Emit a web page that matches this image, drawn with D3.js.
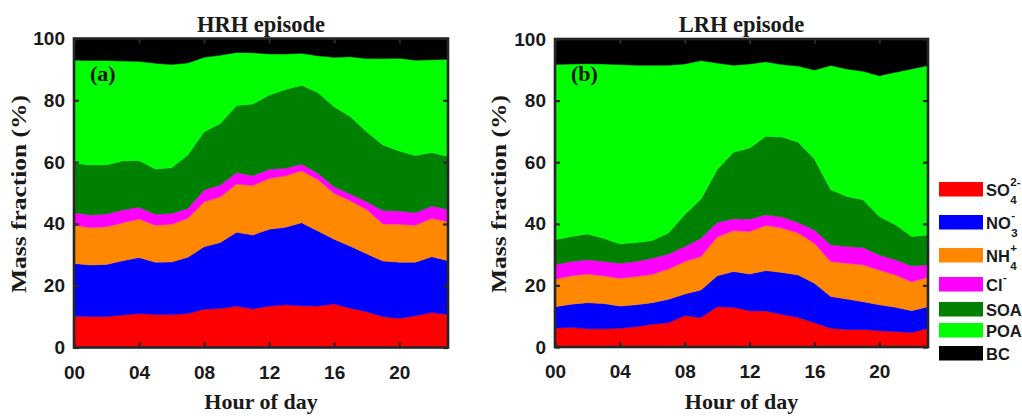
<!DOCTYPE html>
<html>
<head>
<meta charset="utf-8">
<script src="https://cdn.jsdelivr.net/npm/d3@7/dist/d3.min.js"></script>
<style>
  body { margin: 0; background: #fff; }
</style>
</head>
<body>
<div id="container"></div>
<script>
let w = 1022;
let h = 420;

// data: hourly mass fractions (%)
let hours = [0,1,2,3,4,5,6,7,8,9,10,11,12,13,14,15,16,17,18,19,20,21,22,23];
let xTicks = [0,4,8,12,16,20];
let xTickLabels = ["00","04","08","12","16","20"];
let yTicks = [0,20,40,60,80,100];
let species = ["SO4","NO3","NH4","Cl","SOA","POA","BC"];
let colors = ["#ff0000","#0000ff","#ff8800","#ff00ff","#008000","#00ff00","#000000"];
let titles = ["HRH episode","LRH episode"];
let panelTags = ["(a)","(b)"];

// HRH episode
let hrhSO4 = [10.2,10.0,10.0,10.5,11.0,10.7,10.7,11.0,12.4,12.6,13.4,12.5,13.4,13.8,13.5,13.4,14.1,12.7,11.6,10.0,9.4,10.3,11.3,10.7];
let hrhNO3 = [17.0,16.7,16.9,17.6,18.1,16.9,17.0,18.2,20.2,21.4,23.9,23.9,24.9,25.1,26.9,24.3,20.9,20.1,18.7,18.0,18.2,17.3,18.1,17.4];
let hrhNH4 = [12.4,12.1,12.2,12.3,12.5,12.0,12.2,12.6,14.6,14.8,15.6,16.0,16.4,16.7,16.8,16.7,14.9,14.7,14.4,12.0,12.3,12.0,12.4,12.6];
let hrhCl  = [4.0,4.1,4.1,4.1,3.8,3.5,3.5,3.2,3.8,3.8,3.7,3.2,3.0,2.4,2.2,2.0,2.1,2.2,2.5,4.3,4.3,4.0,4.0,4.0];
let hrhSOA = [16.0,16.2,15.9,15.9,15.1,14.7,14.8,17.3,18.8,19.9,21.7,23.2,24.0,25.5,25.5,26.1,25.9,25.0,22.6,21.2,19.4,18.5,17.3,17.1];
let hrhPOA = [33.4,33.8,33.8,32.3,32.1,34.2,33.4,29.8,24.1,22.1,17.2,16.6,13.3,11.5,10.3,11.9,16.0,19.4,23.7,28.0,30.0,30.9,30.0,31.5];
let hrhBC  = [7.0,7.1,7.1,7.3,7.4,8.0,8.4,7.9,6.1,5.4,4.5,4.6,5.0,5.0,4.8,5.6,6.1,5.9,6.5,6.5,6.4,7.0,6.9,6.7];

// LRH episode
let lrhSO4 = [6.1,6.4,5.9,5.9,6.1,6.6,7.4,7.9,10.2,9.6,13.1,12.9,11.8,11.7,10.6,9.6,7.9,6.1,5.7,5.7,5.3,5.0,4.7,6.1];
let lrhNO3 = [7.0,7.5,8.5,8.2,7.2,7.1,7.0,7.6,7.0,8.9,10.0,11.6,11.9,13.1,13.6,13.8,12.8,10.3,9.9,9.0,8.4,7.9,7.1,7.0];
let lrhNH4 = [8.9,9.2,9.3,9.0,9.0,9.2,9.2,9.8,10.6,10.9,12.6,13.3,13.8,14.7,14.4,13.6,13.0,11.4,11.6,12.0,11.3,10.5,9.4,9.6];
let lrhCl  = [4.7,4.7,4.6,4.7,4.9,4.9,5.2,4.9,4.8,5.9,4.7,3.8,4.0,3.4,3.6,3.4,4.3,5.4,5.4,5.6,4.9,4.9,5.1,4.0];
let lrhSOA = [8.1,8.1,8.4,7.5,6.3,6.1,5.8,6.8,10.4,12.7,17.2,21.6,23.1,25.5,26.0,26.1,23.0,17.9,16.3,15.5,12.5,11.4,9.6,9.7];
let lrhPOA = [56.9,56.0,55.3,56.6,58.2,57.6,56.9,54.5,48.9,45.0,34.6,28.3,27.3,24.2,23.5,24.7,28.9,40.3,41.4,41.7,45.7,49.5,54.4,55.0];
let lrhBC  = [8.3,8.1,8.0,8.1,8.3,8.5,8.5,8.5,8.1,7.0,7.8,8.5,8.1,7.4,8.3,8.8,10.1,8.6,9.7,10.5,11.9,10.8,9.7,8.6];

let episodes = [
  [hrhSO4, hrhNO3, hrhNH4, hrhCl, hrhSOA, hrhPOA, hrhBC],
  [lrhSO4, lrhNO3, lrhNH4, lrhCl, lrhSOA, lrhPOA, lrhBC]
];

// pixel boxes of the two axes
let panels = [
  {left: 74, right: 448, top: 38.5, bottom: 347.5, ylabX: 26},
  {left: 555, right: 928, top: 39, bottom: 347, ylabX: 506}
];

let axisColor = "#262626";
let sansFont = "'Liberation Sans', Arial, sans-serif";
let narrowFont = "'Liberation Sans Narrow', 'Arial Narrow', 'Liberation Sans', sans-serif";
let serifFont = "'Liberation Serif', 'Times New Roman', serif";

let viz = d3.select("#container")
  .append("svg")
    .attr("width", w)
    .attr("height", h)
    .style("background-color", "white");

let stack = d3.stack().keys(species);

panels.forEach(function(p, k){
  let rows = hours.map(function(hr, i){
    let r = {hour: hr};
    species.forEach(function(s, j){ r[s] = episodes[k][j][i]; });
    return r;
  });

  let xScale = d3.scaleLinear().domain([0, 23]).range([p.left, p.right]);
  let yScale = d3.scaleLinear().domain([0, 100]).range([p.bottom, p.top]);

  let clipId = "clip" + k;
  viz.append("clipPath").attr("id", clipId)
    .append("rect")
      .attr("x", p.left).attr("y", p.top)
      .attr("width", p.right - p.left).attr("height", p.bottom - p.top);

  let area = d3.area()
    .x(function(d){ return xScale(d.data.hour); })
    .y0(function(d){ return yScale(d[0]); })
    .y1(function(d){ return yScale(d[1]); });

  viz.append("g")
    .attr("clip-path", "url(#" + clipId + ")")
    .selectAll("path")
    .data(stack(rows))
    .enter()
    .append("path")
      .attr("d", area)
      .attr("fill", function(d, i){ return colors[i]; })
      .attr("stroke", function(d, i){ return colors[i]; })
      .attr("stroke-width", 0.5);

  // panel tag (a)/(b)
  viz.append("text")
    .attr("x", p.left + 16)
    .attr("y", 81)
    .attr("font-family", serifFont)
    .attr("font-weight", "bold")
    .attr("font-size", 22)
    .attr("fill", "#111")
    .text(panelTags[k]);

  // inward ticks on all four sides
  let axes = [
    {ax: d3.axisLeft(yScale).tickValues(yTicks).tickSize(-5).tickPadding(9), tr: [p.left, 0]},
    {ax: d3.axisRight(yScale).tickValues(yTicks).tickSize(-5).tickFormat(""), tr: [p.right, 0]},
    {ax: d3.axisBottom(xScale).tickValues(xTicks).tickSize(-5).tickPadding(18)
          .tickFormat(function(d, i){ return xTickLabels[i]; }), tr: [0, p.bottom]},
    {ax: d3.axisTop(xScale).tickValues(xTicks).tickSize(-5).tickFormat(""), tr: [0, p.top]}
  ];
  axes.forEach(function(a){
    let g = viz.append("g")
      .attr("transform", "translate(" + a.tr[0] + "," + a.tr[1] + ")")
      .call(a.ax);
    g.select(".domain").remove();
    g.selectAll("line").attr("stroke", axisColor).attr("stroke-width", 2.2);
    g.selectAll("text")
      .attr("font-family", sansFont)
      .attr("font-weight", "bold")
      .attr("font-size", 19)
      .attr("fill", "#1a1a1a");
  });

  // box
  viz.append("rect")
    .attr("x", p.left).attr("y", p.top)
    .attr("width", p.right - p.left).attr("height", p.bottom - p.top)
    .attr("fill", "none")
    .attr("stroke", axisColor)
    .attr("stroke-width", 2.6);

  let cx = (p.left + p.right) / 2;

  viz.append("text")
    .attr("x", cx).attr("y", 32)
    .attr("text-anchor", "middle")
    .attr("font-family", serifFont)
    .attr("font-weight", "bold")
    .attr("font-size", 22.5)
    .attr("fill", "#1a1a1a")
    .text(titles[k]);

  viz.append("text")
    .attr("x", cx).attr("y", 409)
    .attr("text-anchor", "middle")
    .attr("font-family", serifFont)
    .attr("font-weight", "bold")
    .attr("font-size", 22)
    .attr("fill", "#1a1a1a")
    .text("Hour of day");

  viz.append("text")
    .attr("transform", "translate(" + p.ylabX + ",194) rotate(-90)")
    .attr("text-anchor", "middle")
    .attr("font-family", serifFont)
    .attr("font-weight", "bold")
    .attr("font-size", 22)
    .attr("textLength", 198)
    .attr("lengthAdjust", "spacingAndGlyphs")
    .attr("fill", "#1a1a1a")
    .text("Mass fraction (%)");
});

// legend
let legendMain = ["SO","NO","NH","Cl","SOA","POA","BC"];
let legendSub  = ["4","3","4","","","",""];
let legendSup  = ["2-","-","+","-","","",""];
let legendTops = [182, 215, 248, 277, 302, 323, 346];

let legend = viz.append("g");
species.forEach(function(s, i){
  let y0 = legendTops[i];
  legend.append("rect")
    .attr("x", 939).attr("y", y0)
    .attr("width", 44).attr("height", 14.5)
    .attr("fill", colors[i]);
  let t = legend.append("text")
    .attr("x", 986).attr("y", y0 + 14)
    .attr("font-family", narrowFont)
    .attr("font-weight", "bold")
    .attr("font-size", 16.5)
    .attr("fill", "#1a1a1a")
    .text(legendMain[i]);
  let tw = t.node().getComputedTextLength();
  if (legendSub[i]) {
    legend.append("text")
      .attr("x", 986 + tw + 0.5).attr("y", y0 + 22)
      .attr("font-family", narrowFont).attr("font-weight", "bold")
      .attr("font-size", 11.5).attr("fill", "#1a1a1a")
      .text(legendSub[i]);
  }
  if (legendSup[i]) {
    legend.append("text")
      .attr("x", 986 + tw + 0.5).attr("y", y0 + 4)
      .attr("font-family", narrowFont).attr("font-weight", "bold")
      .attr("font-size", 11.5).attr("fill", "#1a1a1a")
      .text(legendSup[i]);
  }
});
</script>
</body>
</html>
